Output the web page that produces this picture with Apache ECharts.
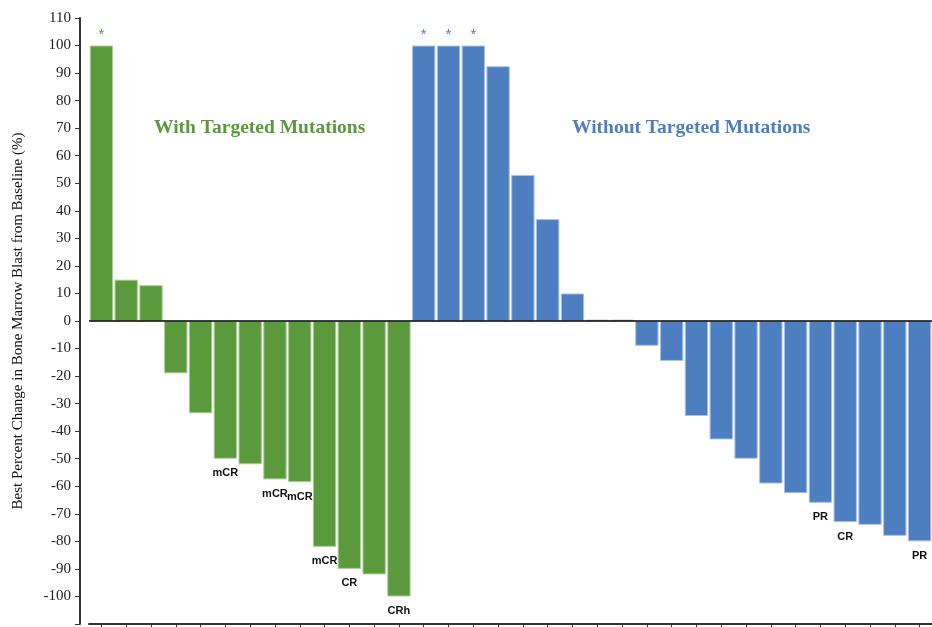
<!DOCTYPE html>
<html>
<head>
<meta charset="utf-8">
<script src="https://cdn.jsdelivr.net/npm/echarts@6/dist/echarts.min.js"></script>
<style>
  html, body { margin: 0; padding: 0; background: #fff; }
  #chart { width: 932px; height: 627px; }
</style>
</head>
<body>
<div id="chart"></div>
<script>
// Best percent change in bone marrow blasts, one bar per patient
const withMutations = [100, 15, 13, -19, -33.5, -50, -52, -57.5, -58.5, -82, -90, -92, -100];
const withNotes = ['*', '', '', '', '', 'mCR', '', 'mCR', 'mCR', 'mCR', 'CR', '', 'CRh'];

const withoutMutations = [100, 100, 100, 92.5, 53, 37, 10, 0.5, 0.5, -9, -14.5, -34.5, -43, -50, -59, -62.5, -66, -73, -74, -78, -80];
const withoutNotes = ['*', '*', '*', '', '', '', '', '', '', '', '', '', '', '', '', '', 'PR', 'CR', '', '', 'PR'];

const yTicks = { min: -110, max: 110, step: 10 };

const GREEN = '#5b9a3c';
const BLUE = '#4c7ec0';

const total = withMutations.length + withoutMutations.length;
const patients = Array.from({ length: total }, (_, i) => 'P' + (i + 1));

function buildSeriesData(values, notes, offset, color) {
  const out = new Array(total).fill(null);
  values.forEach((v, i) => {
    const note = notes[i];
    const item = { value: v };
    if (note === '*') {
      item.label = {
        show: true, position: 'top', distance: 3, formatter: '*',
        color: color, fontSize: 15, fontFamily: 'Liberation Sans'
      };
    } else if (note) {
      item.label = {
        show: true, position: 'bottom', distance: 9, formatter: note,
        color: '#111', fontSize: 11, fontWeight: 'bold', fontFamily: 'Liberation Sans'
      };
    }
    out[offset + i] = item;
  });
  return out;
}

const chart = echarts.init(document.getElementById('chart'), null, { renderer: 'canvas' });

chart.setOption({
  animation: false,
  backgroundColor: '#fff',
  grid: { left: 89, right: 0, top: 18, bottom: 3, containLabel: false, outerBoundsMode: 'none' },
  xAxis: {
    type: 'category',
    data: patients,
    boundaryGap: true,
    axisLine: { onZero: false, lineStyle: { color: '#333', width: 2 } },
    axisTick: { show: true, interval: 0, alignWithLabel: true, length: 3, lineStyle: { color: '#333' } },
    axisLabel: { show: false },
    splitLine: { show: false }
  },
  yAxis: {
    type: 'value',
    min: yTicks.min,
    max: yTicks.max,
    interval: yTicks.step,
    offset: 9,
    name: 'Best Percent Change in Bone Marrow Blast from Baseline (%)',
    nameLocation: 'middle',
    nameGap: 54,
    nameTextStyle: { fontFamily: 'Liberation Serif', fontSize: 15, color: '#111' },
    axisLine: { show: true, lineStyle: { color: '#333', width: 2 } },
    axisTick: { show: true, length: 5, lineStyle: { color: '#333' } },
    axisLabel: {
      fontFamily: 'Liberation Serif', fontSize: 15, color: '#222', margin: 9,
      formatter: v => (v === yTicks.min ? '' : String(v))
    },
    splitLine: { show: false }
  },
  series: [
    {
      name: 'With Targeted Mutations',
      type: 'bar',
      data: buildSeriesData(withMutations, withNotes, 0, GREEN),
      barGap: '-100%',
      barCategoryGap: '6%',
      itemStyle: { color: GREEN, borderColor: '#a9cc96', borderWidth: 1 },
      markLine: {
        silent: true,
        symbol: 'none',
        label: { show: false },
        lineStyle: { color: '#000', width: 1.5, type: 'solid' },
        data: [{ yAxis: 0 }]
      }
    },
    {
      name: 'Without Targeted Mutations',
      type: 'bar',
      data: buildSeriesData(withoutMutations, withoutNotes, withMutations.length, BLUE),
      barGap: '-100%',
      barCategoryGap: '6%',
      itemStyle: { color: BLUE, borderColor: '#a8c0e3', borderWidth: 1 }
    }
  ],
  graphic: [
    {
      type: 'text', left: 154, top: 118,
      style: {
        text: 'With Targeted Mutations', fill: GREEN,
        font: 'bold 19.5px "Liberation Serif"'
      }
    },
    {
      type: 'text', left: 572, top: 118,
      style: {
        text: 'Without Targeted Mutations', fill: BLUE,
        font: 'bold 19.5px "Liberation Serif"'
      }
    }
  ]
});
</script>
</body>
</html>
